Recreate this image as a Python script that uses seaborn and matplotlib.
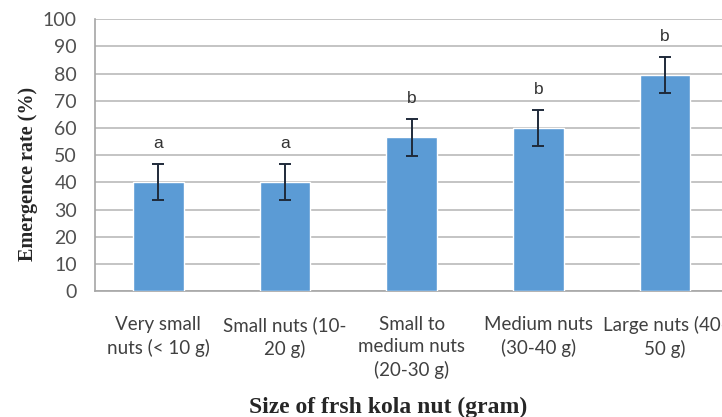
import numpy as np
import pandas as pd
import seaborn as sns
import matplotlib.pyplot as plt

# values
categories = ['Very small\nnuts (< 10 g)', 'Small nuts (10-\n20 g)',
              'Small to\nmedium nuts\n(20-30 g)', 'Medium nuts\n(30-40 g)',
              'Large nuts (40-\n50 g)']
emergence = [40, 40, 56.5, 60, 79.5]
errors = [6.6, 6.6, 6.7, 6.7, 6.6]
letters = ['a', 'a', 'b', 'b', 'b']

sns.set_style('white')
plt.rcParams['font.family'] = ['Lato', 'DejaVu Sans']

df = pd.DataFrame({'size': categories, 'rate': emergence})

fig = plt.figure(figsize=(7.22, 4.17), dpi=100)
ax = fig.add_axes([0.1316, 0.302, 0.877, 0.652])

sns.barplot(data=df, x='size', y='rate', color='#5B9BD5', saturation=1,
            width=0.4, ax=ax, zorder=3)
pos = np.arange(len(categories))
ax.errorbar(pos, emergence, yerr=errors, fmt='none', ecolor='#1F2A3A',
            elinewidth=1.4, capsize=4, capthick=1.4, zorder=4)

# significance letters
for x, m, e, l in zip(pos, emergence, errors, letters):
    ax.text(x, m + e + 7.5, l, ha='center', va='center', fontsize=12.5,
            color='#333333', fontfamily='Liberation Sans')

ax.set_ylim(0, 100)
ax.set_xlim(-0.5, len(categories) - 0.5)
ax.set_yticks(np.arange(0, 101, 10))
ax.yaxis.grid(True, color='#BFBFBF', linewidth=1.3, zorder=0)
ax.set_axisbelow(True)

for s in ['top', 'right']:
    ax.spines[s].set_visible(False)
for s in ['left', 'bottom']:
    ax.spines[s].set_color('#A6A6A6')
    ax.spines[s].set_linewidth(1.2)

# category ticks between bars, labels at bar centres
ax.set_xticks(pos)
ax.set_xticklabels(categories, fontsize=13.5, color='#404040', linespacing=1.38)
ax.tick_params(axis='x', length=0, pad=18)
ax.set_xticks(np.arange(-0.5, len(categories), 1), minor=True)
ax.tick_params(axis='x', which='minor', length=5, color='#A6A6A6', direction='out')
ax.tick_params(axis='y', length=5, color='#A6A6A6', labelsize=14,
               labelcolor='#505050', pad=8)

ax.set_xlabel('')
ax.set_ylabel('Emergence rate (%)', fontsize=14.5, fontweight='bold',
              fontfamily='Liberation Serif')
ax.yaxis.set_label_coords(-0.09, 0.432)
fig.text(388 / 722, 1 - 407 / 417, 'Size of frsh kola nut (gram)', ha='center',
         va='center', fontsize=17, fontweight='bold', fontfamily='Liberation Serif')

fig.savefig('out.png', dpi=100)
